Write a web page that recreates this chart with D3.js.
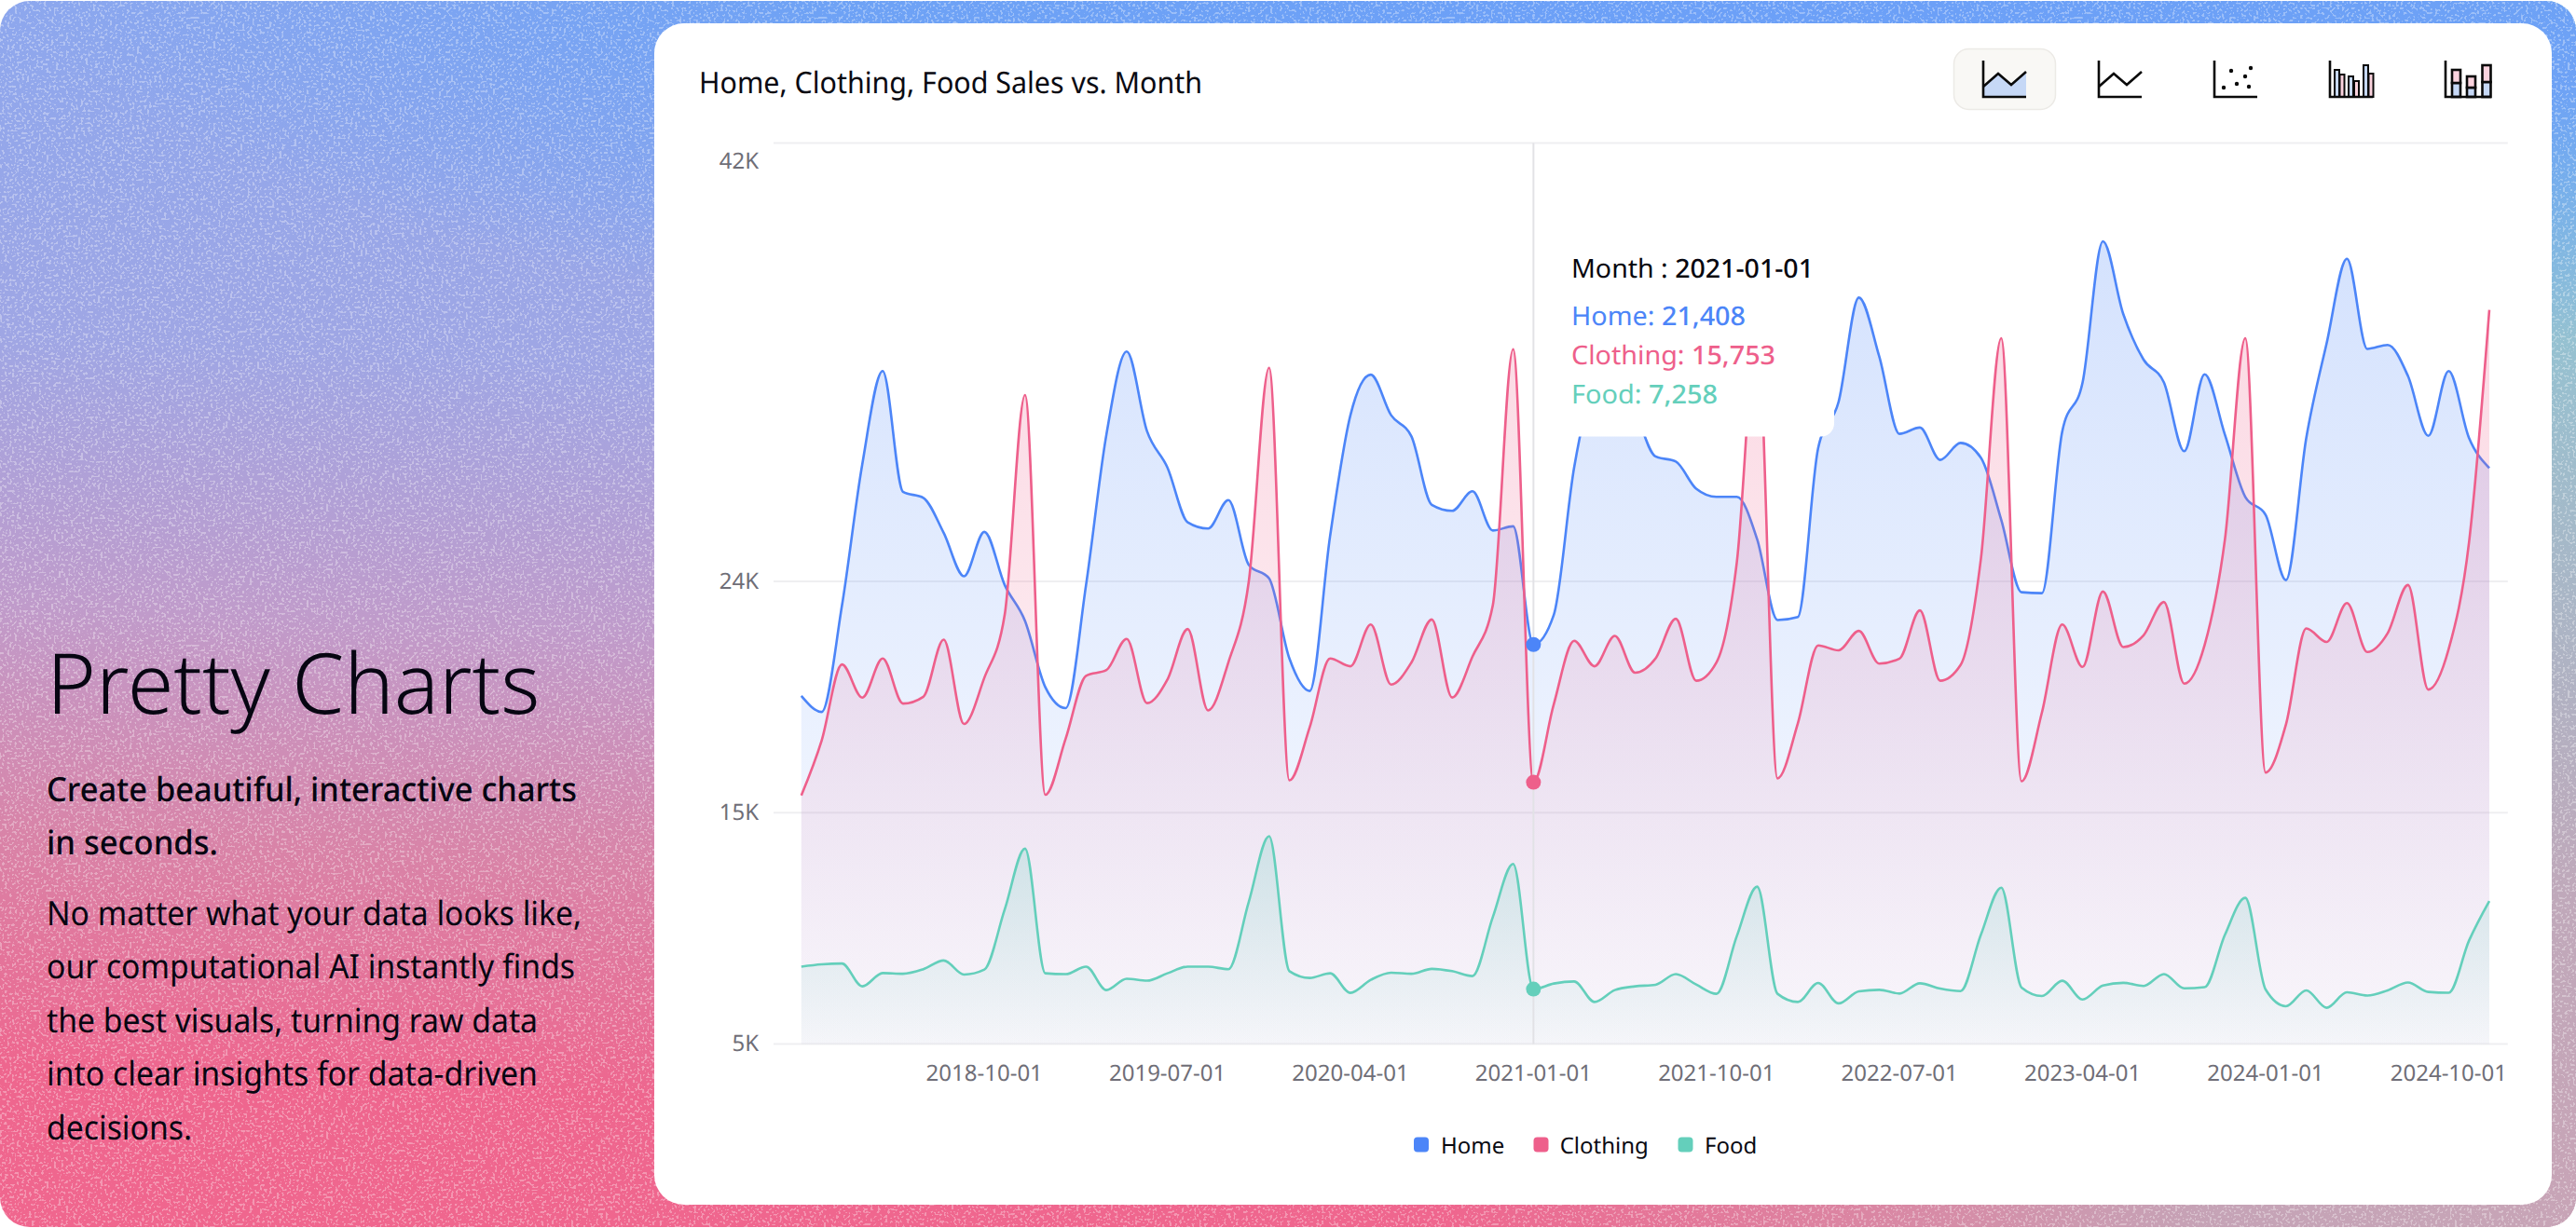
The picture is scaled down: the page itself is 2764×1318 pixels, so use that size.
<!DOCTYPE html>
<html><head><meta charset="utf-8">
<script src="https://cdn.jsdelivr.net/npm/d3@7/dist/d3.min.js"></script>
<style>
html,body{margin:0;padding:0;background:#fff;width:2764px;height:1318px;overflow:hidden}
svg{position:absolute;left:0;top:0;font-family:"Noto Sans",sans-serif;text-rendering:geometricPrecision}
</style></head><body>
<svg id="c" width="2764" height="1318" viewBox="0 0 2764 1318"></svg>
<script>
const months=["2018-01-01","2018-02-01","2018-03-01","2018-04-01","2018-05-01","2018-06-01","2018-07-01","2018-08-01","2018-09-01","2018-10-01","2018-11-01","2018-12-01",
"2019-01-01","2019-02-01","2019-03-01","2019-04-01","2019-05-01","2019-06-01","2019-07-01","2019-08-01","2019-09-01","2019-10-01","2019-11-01","2019-12-01",
"2020-01-01","2020-02-01","2020-03-01","2020-04-01","2020-05-01","2020-06-01","2020-07-01","2020-08-01","2020-09-01","2020-10-01","2020-11-01","2020-12-01",
"2021-01-01","2021-02-01","2021-03-01","2021-04-01","2021-05-01","2021-06-01","2021-07-01","2021-08-01","2021-09-01","2021-10-01","2021-11-01","2021-12-01",
"2022-01-01","2022-02-01","2022-03-01","2022-04-01","2022-05-01","2022-06-01","2022-07-01","2022-08-01","2022-09-01","2022-10-01","2022-11-01","2022-12-01",
"2023-01-01","2023-02-01","2023-03-01","2023-04-01","2023-05-01","2023-06-01","2023-07-01","2023-08-01","2023-09-01","2023-10-01","2023-11-01","2023-12-01",
"2024-01-01","2024-02-01","2024-03-01","2024-04-01","2024-05-01","2024-06-01","2024-07-01","2024-08-01","2024-09-01","2024-10-01","2024-11-01","2024-12-01"];
const home=[19298,18640,23011,28823,32636,27676,27431,25994,24212,26032,23852,22372,
19653,18797,23852,30020,33439,30162,28678,26426,26170,27336,24682,24120,
20831,19501,25860,30823,32487,30823,29951,27141,26896,27699,26089,26261,
21408,22629,28678,32189,33145,31041,29129,28919,27806,27470,27470,25726,
22414,22537,29481,31363,35653,33240,30059,30315,28988,29684,29080,26529,
23554,23516,30154,32166,37963,34980,33106,32166,29347,32502,30020,27470,
26732,24051,29894,33775,37248,33546,33707,32433,29978,32636,29894,28651];
const clothing=[15210,17466,20590,19225,20831,18984,19263,21607,18143,20043,22629,31653,
15237,17546,20124,20357,21638,19000,19967,22043,18701,20678,23982,32770,
15829,18017,20831,20514,22231,19764,20671,22437,19233,20908,23011,33535,
15753,18958,21558,20514,21761,20250,20831,22464,19921,20678,24789,34483,
15910,18174,21370,21168,21967,20625,20831,22808,19921,20564,24923,33986,
15791,18613,22227,20487,23585,21302,21787,23152,19799,21382,25726,33986,
16151,18124,22066,21512,23110,21103,21871,23852,19558,21218,25592,35145];
const food=[8181,8277,8308,7371,7918,7887,8074,8434,7856,8059,10526,13023,
7906,7872,8181,7218,7684,7604,7906,8181,8181,8074,10835,13535,
7994,7715,7906,7103,7638,7933,7887,8090,7994,7791,10212,12396,
7258,7486,7573,6732,7218,7371,7436,7872,7447,7065,9436,11463,
7065,6732,7512,6671,7168,7229,7076,7497,7279,7176,9489,11424,
7321,6977,7600,6832,7401,7516,7386,7876,7287,7336,9489,11004,
7241,6556,7206,6491,7126,6996,7206,7531,7141,7107,9245,10874];
const seriesNames=["Home","Clothing","Food"];
const seriesColors=["#4c85f8","#ee5f8b","#64cfbb"];
const seriesValues=[home,clothing,food];
const xTicks=["2018-10-01","2019-07-01","2020-04-01","2021-01-01","2021-10-01","2022-07-01","2023-04-01","2024-01-01","2024-10-01"];
const yTicks=[5000,14500,24000,42000];
const yTickLabels=["5K","15K","24K","42K"];
const activeMonth="2021-01-01";
const chartTitle="Home, Clothing, Food Sales vs. Month";
const heading="Pretty Charts";
const subLines=["Create beautiful, interactive charts","in seconds."];
const bodyLines=["No matter what your data looks like,","our computational AI instantly finds","the best visuals, turning raw data","into clear insights for data-driven","decisions."];
const subWidths=[569,184];
const bodyWidths=[574,567,527,527,156];
const tipWidths=[260,187,219,157];

const svg=d3.select("#c");
const defs=svg.append("defs");

/* page background */
function lg(id,attrs,stops){const g=defs.append(attrs.r?"radialGradient":"linearGradient").attr("id",id);
  Object.entries(attrs).forEach(([k,v])=>g.attr(k,v));
  stops.forEach(s=>g.append("stop").attr("offset",s[0]).attr("stop-color",s[1]).attr("stop-opacity",s[2]===undefined?1:s[2]));}
lg("bgBase",{x1:0.1,y1:0,x2:0,y2:1},[[0,"#8ca7ee"],[0.28,"#9fa6e4"],[0.5,"#c09bca"],[0.68,"#d884a8"],[0.87,"#ee668e"],[1,"#f0668e"]]);
lg("bgBlue",{gradientUnits:"userSpaceOnUse",cx:1900,cy:-240,r:1900,gradientTransform:"scale(1 0.25)"},[[0,"#6b9ff8",1],[0.55,"#6ea2f5",1],[1,"#6ea2f5",0]]);
lg("bgTeal",{gradientUnits:"userSpaceOnUse",cx:2950,cy:560,r:1100},[[0,"#84cdd8",1],[0.5,"#84cdd8",0.85],[1,"#84cdd8",0]]);
lg("bgGrey",{gradientUnits:"userSpaceOnUse",cx:2800,cy:1400,r:1250},[[0,"#c9a4b6",1],[0.35,"#c4a6b8",0.92],[1,"#c8a4b6",0]]);
const noise=defs.append("filter").attr("id","speck").attr("x",0).attr("y",0).attr("width",1).attr("height",1);
noise.append("feTurbulence").attr("type","fractalNoise").attr("baseFrequency",0.38).attr("numOctaves",1).attr("seed",4);
noise.append("feColorMatrix").attr("values","0 0 0 0 1 0 0 0 0 1 0 0 0 0 1 14 14 0 0 -15.2");
const bg=svg.append("g");
const pageRect=s=>s.attr("x",0).attr("y",1).attr("width",2764).attr("height",1316).attr("rx",32);
pageRect(bg.append("rect")).attr("fill","url(#bgBase)");
pageRect(bg.append("rect")).attr("fill","url(#bgTeal)");
pageRect(bg.append("rect")).attr("fill","url(#bgGrey)");
pageRect(bg.append("rect")).attr("fill","url(#bgBlue)");
pageRect(bg.append("rect")).attr("fill","#fff").attr("filter","url(#speck)").attr("opacity",0.32);

const fit=(s,w)=>s.attr("textLength",w).attr("lengthAdjust","spacingAndGlyphs");

/* left copy */
const left=svg.append("g").attr("fill","#070612");
left.append("text").attr("x",50).attr("y",765.5).attr("font-size",90).attr("font-weight",300).text(heading);
subLines.forEach((t,i)=>fit(left.append("text").attr("x",50).attr("y",859.5+57.6*i).attr("font-size",36).attr("font-weight",500).text(t),subWidths[i]));
bodyLines.forEach((t,i)=>fit(left.append("text").attr("x",50).attr("y",992.5+57.6*i).attr("font-size",36).attr("font-weight",400).text(t),bodyWidths[i]));

/* card */
svg.append("rect").attr("x",702).attr("y",25).attr("width",2036).attr("height",1268).attr("rx",32).attr("fill","#fff");
fit(svg.append("text").attr("x",750).attr("y",100).attr("font-size",32).attr("fill","#0a0a12").text(chartTitle),540);

/* scales */
const x=d3.scalePoint().domain(months).range([859.8,2671]);
const y=d3.scaleLinear().domain([5000,42000]).range([1120.6,153.5]);

/* grid + axes */
const yG=svg.append("g").attr("transform","translate(830,0)")
 .call(d3.axisLeft(y).tickValues(yTicks).tickFormat((d,i)=>yTickLabels[i]).tickSizeInner(-1860.8).tickSizeOuter(0).tickPadding(16).offset(0))
 .attr("font-family",null).attr("font-size",null);
yG.select(".domain").remove();
yG.selectAll("line").attr("stroke","#efeff1").attr("stroke-width",2);
yG.selectAll("text").attr("font-size",24).attr("fill","#6f6e77");
yG.selectAll(".tick").filter(d=>d===42000).select("text").attr("y",19.5);
const xG=svg.append("g").attr("transform","translate(0,1120.6)")
 .call(d3.axisBottom(x).tickValues(xTicks).tickSize(0).tickPadding(39.4).offset(0))
 .attr("font-family",null).attr("font-size",null);
xG.select(".domain").remove();
xG.selectAll("text").attr("dy",0).attr("font-size",24).attr("fill","#6f6e77");

/* series */
const line=d3.line().x((d,i)=>x(months[i])).y(d=>y(d)).curve(d3.curveMonotoneX);
const area=d3.area().x((d,i)=>x(months[i])).y0(y(5000)).y1(d=>y(d)).curve(d3.curveMonotoneX);
seriesNames.forEach((n,k)=>{
  lg("fill"+k,{x1:0,y1:0,x2:0,y2:1},[[0,seriesColors[k],0.24],[1,seriesColors[k],0.03]]);
  svg.append("path").datum(seriesValues[k]).attr("d",area).attr("fill",`url(#fill${k})`);
  svg.append("path").datum(seriesValues[k]).attr("d",line).attr("fill","none").attr("stroke",seriesColors[k]).attr("stroke-width",2.6);
});

/* crosshair + markers */
const ax=x(activeMonth), ai=months.indexOf(activeMonth);
svg.append("line").attr("x1",ax).attr("x2",ax).attr("y1",y(42000)).attr("y2",y(5000)).attr("stroke","#e2e2e6").attr("stroke-width",2);
seriesNames.forEach((n,k)=>svg.append("circle").attr("cx",ax).attr("cy",y(seriesValues[k][ai])).attr("r",8).attr("fill",seriesColors[k]));

/* tooltip */
const tip=svg.append("g");
tip.append("rect").attr("x",1650).attr("y",245).attr("width",318).attr("height",223.5).attr("rx",14).attr("fill","#fff");
const t0=fit(tip.append("text").attr("x",1686).attr("y",297.5).attr("font-size",28).attr("fill","#07070f"),tipWidths[0]);
t0.append("tspan").text("Month : ");
t0.append("tspan").attr("font-weight",500).text(activeMonth);
seriesNames.forEach((n,k)=>{
  const t=fit(tip.append("text").attr("x",1686).attr("y",349.2+42*k).attr("font-size",28).attr("fill",seriesColors[k]),tipWidths[k+1]);
  t.append("tspan").text(n+": ");
  t.append("tspan").attr("font-weight",500).text(d3.format(",")(seriesValues[k][ai]));
});

/* legend */
const legendX=[1517,1645.5,1800.5], legendTextX=[1546,1673.7,1829];
seriesNames.forEach((n,k)=>{
  svg.append("rect").attr("x",legendX[k]).attr("y",1220.5).attr("width",16).attr("height",16).attr("rx",4).attr("fill",seriesColors[k]);
  svg.append("text").attr("x",legendTextX[k]).attr("y",1238).attr("font-size",24).attr("fill","#0a0a12").text(n);
});

/* toolbar */
svg.append("rect").attr("x",2096.5).attr("y",52.5).attr("width",109).attr("height",65).attr("rx",16).attr("fill","#f9f8f5").attr("stroke","#eceae6").attr("stroke-width",1.5);
const ic=(gx)=>svg.append("g").attr("transform",`translate(${gx},0)`).attr("fill","none").attr("stroke","#0a0a0a").attr("stroke-width",2.6).attr("stroke-linejoin","miter");
const axes="M0 65V104H46";
const g1=ic(2128);
g1.append("path").attr("d","M0 93L16 79L30 91L46 77V104H0Z").attr("fill","#c6d8f6").attr("stroke","none");
g1.append("path").attr("d",axes); g1.append("path").attr("d","M0 93L16 79L30 91L46 77");
const g2=ic(2252);
g2.append("path").attr("d",axes); g2.append("path").attr("d","M0 93L16 79L30 91L46 77");
const g3=ic(2376);
g3.append("path").attr("d",axes);
[[10,94],[18,76],[24,90],[33,82],[37,93],[39,73]].forEach(p=>g3.append("circle").attr("cx",p[0]).attr("cy",p[1]).attr("r",2.2).attr("fill","#0a0a0a").attr("stroke","none"));
const g4=ic(2500);
[[5,75,"#c6d8f6"],[10.5,80,"#fbd3de"],[20,82,"#c6d8f6"],[26,87,"#fbd3de"],[36,70,"#c6d8f6"],[41.5,79,"#fbd3de"]].forEach(b=>g4.append("rect").attr("x",b[0]).attr("y",b[1]).attr("width",5).attr("height",104-b[1]).attr("fill",b[2]).attr("stroke-width",2));
g4.append("path").attr("d",axes);
const g5=ic(2624);
[[7,75,89],[23,82,94],[39.5,70,88]].forEach(b=>{
  g5.append("rect").attr("x",b[0]).attr("y",b[2]).attr("width",9).attr("height",104-b[2]).attr("fill","#c6d8f6");
  g5.append("rect").attr("x",b[0]).attr("y",b[1]).attr("width",9).attr("height",b[2]-b[1]).attr("fill","#fbd3de");
});
g5.append("path").attr("d","M0 65V104H49");
</script>
</body></html>
